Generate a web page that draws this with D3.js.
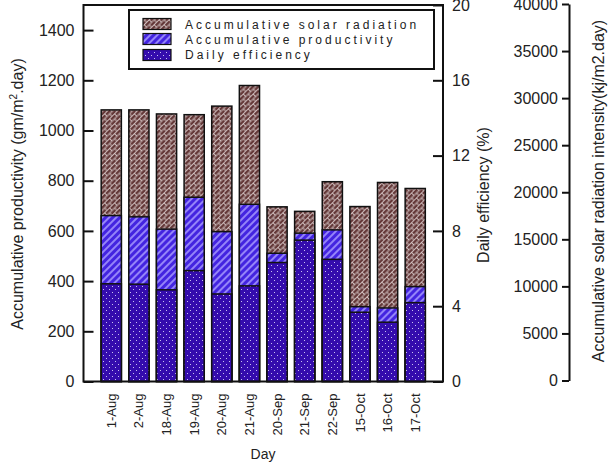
<!DOCTYPE html>
<html><head><meta charset="utf-8">
<script src="https://cdn.jsdelivr.net/npm/d3@7"></script>
<style>
html,body{margin:0;padding:0;background:#fff;}
svg{display:block;font-family:"Liberation Sans",Arial,sans-serif;}
</style></head>
<body>
<svg id="chart" width="609" height="465"></svg>
<script>
// ---- data ----
const categories = ["1-Aug","2-Aug","18-Aug","19-Aug","20-Aug","21-Aug","20-Sep","21-Sep","22-Sep","15-Oct","16-Oct","17-Oct"];
const solarRadiation = [28750, 28750, 28320, 28240, 29150, 31340, 18450, 17970, 21120, 18480, 21040, 20400];
const productivity = [661, 656, 607, 734, 597, 706, 511, 591, 604, 298, 293, 378];
const efficiency = [5.19, 5.17, 4.87, 5.89, 4.65, 5.08, 6.32, 7.51, 6.49, 3.68, 3.15, 4.19];
const leftTicks = [0, 200, 400, 600, 800, 1000, 1200, 1400];
const rightTicks = [0, 4, 8, 12, 16, 20];
const solarTicks = [0, 5000, 10000, 15000, 20000, 25000, 30000, 35000, 40000];
const legendLabels = ["Accumulative solar radiation", "Accumulative productivity", "Daily efficiency"];

const svg = d3.select("#chart");
const L = 83.5, R = 443, T = 5, B = 381.5;

// patterns
const defs = svg.append("defs");
const brick = defs.append("pattern").attr("id","brick").attr("patternUnits","userSpaceOnUse")
  .attr("width",7).attr("height",7).attr("patternTransform","rotate(-45)");
brick.append("rect").attr("width",7).attr("height",7).attr("fill","#643838");
brick.append("path").attr("d","M0,0.5H7M0,4H7M0.5,0.5V4M4,4V7.5")
  .attr("stroke","#e6dada").attr("stroke-width",0.8).attr("fill","none");
const hatch = defs.append("pattern").attr("id","hatch").attr("patternUnits","userSpaceOnUse")
  .attr("width",5).attr("height",5).attr("patternTransform","rotate(45)");
hatch.append("rect").attr("width",5).attr("height",5).attr("fill","#4324e0");
hatch.append("line").attr("x1",1).attr("x2",1).attr("y1",0).attr("y2",5)
  .attr("stroke","#a99cff").attr("stroke-width",1.6);
const dots = defs.append("pattern").attr("id","dots").attr("patternUnits","userSpaceOnUse")
  .attr("width",6).attr("height",6);
dots.append("rect").attr("width",6).attr("height",6).attr("fill","#340cad");
dots.append("rect").attr("x",1).attr("y",1).attr("width",1).attr("height",1).attr("fill","#c8c0f0");
dots.append("rect").attr("x",4).attr("y",4).attr("width",1).attr("height",1).attr("fill","#c8c0f0");

// scales
const x = d3.scaleBand().domain(categories).range([L, R]).paddingInner(0.27).paddingOuter(0.64);
const yLeft = d3.scaleLinear().domain([0, 1500]).range([B, T]);
const yRight = d3.scaleLinear().domain([0, 20]).range([B, T]);
const ySolar = d3.scaleLinear().domain([0, 40000]).range([380.5, 4]);

// bars
const g = svg.append("g");
categories.forEach((c, i) => {
  const bx = x(c), bw = x.bandwidth();
  g.append("rect").attr("x", bx).attr("width", bw)
    .attr("y", ySolar(solarRadiation[i])).attr("height", B - ySolar(solarRadiation[i]))
    .attr("fill","url(#brick)").attr("stroke","#111").attr("stroke-width",1.5);
  g.append("rect").attr("x", bx).attr("width", bw)
    .attr("y", yLeft(productivity[i])).attr("height", B - yLeft(productivity[i]))
    .attr("fill","url(#hatch)").attr("stroke","#111").attr("stroke-width",1.5);
  g.append("rect").attr("x", bx).attr("width", bw)
    .attr("y", yRight(efficiency[i])).attr("height", B - yRight(efficiency[i]))
    .attr("fill","url(#dots)").attr("stroke","#111").attr("stroke-width",1.5);
});

// plot frame
svg.append("rect").attr("x", L).attr("y", T).attr("width", R - L).attr("height", B - T)
  .attr("fill","none").attr("stroke","#111").attr("stroke-width",2);

// axes
const fs = "16px";
const fmt = d3.format("d");
const gl = svg.append("g").attr("transform",`translate(${L},0)`)
  .call(d3.axisLeft(yLeft).tickValues(leftTicks).tickFormat(fmt).tickSize(-10).tickPadding(9).tickSizeOuter(0));
const gr = svg.append("g").attr("transform",`translate(${R},0)`)
  .call(d3.axisRight(yRight).tickValues(rightTicks).tickFormat(fmt).tickSize(-10).tickPadding(9).tickSizeOuter(0));
const gs = svg.append("g").attr("transform","translate(569,0)")
  .call(d3.axisLeft(ySolar).tickValues(solarTicks).tickFormat(fmt).tickSize(7).tickPadding(4).tickSizeOuter(0));
[gl, gr, gs].forEach(a => {
  a.selectAll("text").attr("font-size", fs).attr("fill","#222").attr("font-family","Liberation Sans, Arial, sans-serif");
  a.selectAll("line").attr("stroke","#111").attr("stroke-width",2);
  a.select(".domain").attr("stroke","#111").attr("stroke-width",2);
});
gl.select(".domain").remove();
gr.select(".domain").remove();

// x labels
const gx = svg.append("g").attr("transform",`translate(0,${B})`)
  .call(d3.axisBottom(x).tickSize(0).tickPadding(0));
gx.select(".domain").remove();
gx.selectAll("text").attr("font-size","13px").attr("fill","#222")
  .attr("font-family","Liberation Sans, Arial, sans-serif")
  .attr("text-anchor","end").attr("transform","rotate(-90)")
  .attr("x",-12).attr("y",0).attr("dy","0.35em");

// axis titles
const title = (txt, tx, ty, rot) => svg.append("text")
  .attr("transform",`translate(${tx},${ty}) rotate(${rot})`)
  .attr("text-anchor","middle").attr("font-size","16px").attr("fill","#222").text(txt);
const t1 = title("", 23, 194, -90);
t1.append("tspan").text("Accumulative productivity (gm/m");
t1.append("tspan").text("2").attr("font-size","10px").attr("dy","-6");
t1.append("tspan").text(".day)").attr("dy","6");
title("Daily efficiency (%)", 489, 195, -90);
title("Accumulative solar radiation intensity(kj/m2.day)", 604, 191, -90);
svg.append("text").attr("x", 263).attr("y", 459).attr("text-anchor","middle")
  .attr("font-size","14px").attr("fill","#222").text("Day");

// legend
const lg = svg.append("g");
lg.append("rect").attr("x",129).attr("y",10).attr("width",305).attr("height",59)
  .attr("fill","#fff").attr("stroke","#111").attr("stroke-width",2);
const fills = ["url(#brick)","url(#hatch)","url(#dots)"];
const rowY = [18.5, 33.5, 49.5];
const baseY = [28.5, 43.5, 59];
legendLabels.forEach((lab, i) => {
  lg.append("rect").attr("x",143).attr("y",rowY[i]).attr("width",28).attr("height",11)
    .attr("fill",fills[i]).attr("stroke","#111").attr("stroke-width",1.2);
  lg.append("text").attr("x",185).attr("y",baseY[i]).attr("font-size","12px")
    .attr("letter-spacing","3px").attr("fill","#222").text(lab);
});
</script>
</body></html>
